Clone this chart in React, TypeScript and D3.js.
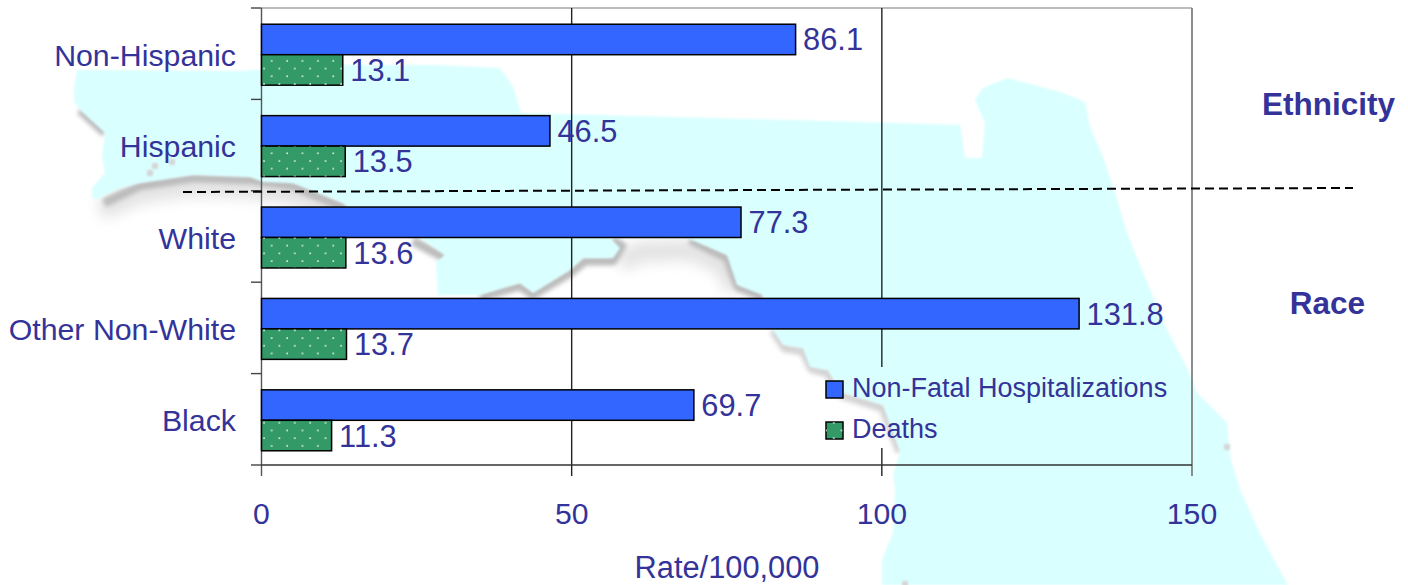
import React from "react";
import * as d3 from "d3";

const categories = ["Non-Hispanic", "Hispanic", "White", "Other Non-White", "Black"];
const hospitalizations = [86.1, 46.5, 77.3, 131.8, 69.7];
const deaths = [13.1, 13.5, 13.6, 13.7, 11.3];
const xTicks = [0, 50, 100, 150];
const seriesNames = ["Non-Fatal Hospitalizations", "Deaths"];
const groupLabels = ["Ethnicity", "Race"];
const axisTitle = "Rate/100,000";

const W = 1408, H = 585;
const INK = "#333399", BLUE = "#3366FF", GREEN = "#339966", LAND = "#D9FFFF";
const FONT = "'Liberation Sans', Arial, sans-serif";

// decorative backdrop: the outline of the state behind the plot
const land: [number, number][] = [
  [77,70],[74,87],[74,102],[80,110],[105,133],[102,157],[105,173],[92,188],[92,198],[97,199],[120,188],[140,183],
  [193,175],[250,177],[263,182],[293,183],[343,203],[380,225],[420,238],[445,255],[436,262],[438,295],[480,295],
  [520,283],[533,293],[570,270],[583,258],[613,258],[620,248],[610,238],[687,238],[727,255],[737,285],[763,295],
  [773,330],[783,345],[803,348],[810,367],[828,370],[840,392],[883,405],[900,452],[893,475],[895,490],[893,533],
  [882,560],[882,585],[1288,585],[1263,540],[1240,490],[1230,457],[1227,423],[1197,393],[1188,370],[1167,330],
  [1143,273],[1127,233],[1115,193],[1103,157],[1090,127],[1085,102],[1060,92],[1007,78],[983,88],[975,100],[985,123],
  [982,158],[965,158],[960,125],[860,122],[521,113],[513,87],[500,68],[433,65],[340,65],[240,71],
];
const shadowsWide: [number, number][][] = [
  [[100,210],[140,193],[193,186],[250,188],[293,194],[345,215]],
  [[620,262],[640,252],[690,250],[725,265],[735,290]],
];
const shadows: [number, number][][] = [
  [[80,110],[105,133]],
  [[104,203],[140,186],[193,178],[250,180],[293,186],[345,208]],
  [[413,241],[445,258]],
  [[480,297],[520,286],[533,295],[570,273],[585,261],[613,261],[622,246],[612,240]],
  [[690,240],[727,258],[738,287],[763,297]],
];
const faintShadows: [number, number][][] = [
  [[773,330],[785,348],[803,351],[812,369],[828,373],[842,395],[883,408],[900,452]],
];
const spots: [number, number][] = [[150,173],[155,166],[172,162],[1227,447],[905,584]];

const x = d3.scaleLinear().domain([0, 150]).range([261.5, 1192]);
const yTicks = d3.scaleLinear().domain([0, categories.length]).range([8, 465]);
const yBand = d3.scaleBand<string>().domain(categories).range([9, 466]).paddingInner(1 / 3).paddingOuter(1 / 6);
const line = d3.line();
const filterBox = { filterUnits: "userSpaceOnUse" as const, x: 0, y: 0, width: W, height: H };

export default function App() {
  const bh = yBand.bandwidth() / 2;
  const legendX = 826, legendY = [381, 422], sw = 17;
  const gapTop = 367, gapBottom = 448;
  return (
    <svg width={W} height={H} viewBox={`0 0 ${W} ${H}`} style={{ position: "absolute", left: 0, top: 0, display: "block", background: "#fff" }} fontFamily={FONT}>
      <defs>
        <pattern id="dots" width={15.4} height={15.4} patternUnits="userSpaceOnUse" x={261} y={4}>
          <circle cx={3} cy={3} r={0.9} fill="#fff" />
          <circle cx={10.7} cy={10.7} r={0.9} fill="#fff" />
        </pattern>
        <filter id="blurA" {...filterBox}><feGaussianBlur stdDeviation={2.2} /></filter>
        <filter id="blurB" {...filterBox}><feGaussianBlur stdDeviation={7} /></filter>
        <filter id="blurC" {...filterBox}><feGaussianBlur stdDeviation={0.8} /></filter>
      </defs>

      <g fill="none" strokeLinejoin="round">
        {shadowsWide.map((s, i) => <path key={"w" + i} d={line(s) ?? ""} stroke="#e2e2e2" strokeWidth={20} filter="url(#blurB)" />)}
        {shadows.map((s, i) => <path key={"s" + i} d={line(s) ?? ""} stroke="#bcbcbc" strokeWidth={9} filter="url(#blurA)" />)}
        {faintShadows.map((s, i) => <path key={"f" + i} d={line(s) ?? ""} stroke="#d4d4d4" strokeWidth={9} filter="url(#blurA)" />)}
      </g>
      <path d={(line(land) ?? "") + "Z"} fill={LAND} filter="url(#blurC)" />
      {spots.map((p, i) => <rect key={i} x={p[0] - 3} y={p[1] - 3} width={6} height={6} fill="#d6d6d6" filter="url(#blurC)" />)}

      {/* frame and gridlines */}
      <line x1={261.5} x2={1192} y1={8} y2={8} stroke="#a6a6a6" strokeWidth={1.5} />
      {xTicks.map((t) => {
        const px = x(t);
        const stroke = t === 150 ? "#808080" : t === 0 ? "#555" : "#222";
        const sw2 = t === 150 ? 1.8 : 1.4;
        if (t === 100) {
          return (
            <g key={t} stroke={stroke} strokeWidth={sw2}>
              <line x1={px} x2={px} y1={8} y2={gapTop} />
              <line x1={px} x2={px} y1={gapBottom} y2={476} />
            </g>
          );
        }
        return <line key={t} x1={px} x2={px} y1={8} y2={476} stroke={stroke} strokeWidth={sw2} />;
      })}
      <line x1={261.5} x2={1192} y1={465} y2={465} stroke="#333" strokeWidth={1.4} />
      {d3.range(categories.length + 1).map((i) => (
        <line key={i} x1={251} x2={261.5} y1={yTicks(i)} y2={yTicks(i)} stroke="#444" strokeWidth={1.4} />
      ))}

      {/* bars */}
      {categories.map((c, i) => {
        const y0 = yBand(c) ?? 0;
        return (
          <g key={c}>
            <rect x={x(0)} y={y0} width={x(hospitalizations[i]) - x(0)} height={bh} fill={BLUE} stroke="#000" strokeWidth={1.5} />
            <rect x={x(0)} y={y0 + bh} width={x(deaths[i]) - x(0)} height={bh} fill={GREEN} stroke="#000" strokeWidth={1.5} />
            <rect x={x(0)} y={y0 + bh} width={x(deaths[i]) - x(0)} height={bh} fill="url(#dots)" />
            <text x={x(hospitalizations[i]) + 7.5} y={y0 + bh / 2 + 11} fontSize={30.8} fill={INK}>{hospitalizations[i].toFixed(1)}</text>
            <text x={x(deaths[i]) + 7.5} y={y0 + bh * 1.5 + 11} fontSize={30.8} fill={INK}>{deaths[i].toFixed(1)}</text>
            <text x={236} y={y0 + bh + 11} fontSize={30.3} fill={INK} textAnchor="end">{c}</text>
          </g>
        );
      })}

      {/* x tick labels and title */}
      {xTicks.map((t) => (
        <text key={t} x={x(t)} y={524} fontSize={30.2} fill={INK} textAnchor="middle">{t}</text>
      ))}
      <text x={727} y={578} fontSize={30.8} fill={INK} textAnchor="middle">{axisTitle}</text>

      {/* legend */}
      {seriesNames.map((n, i) => (
        <g key={n}>
          <rect x={legendX} y={legendY[i]} width={sw} height={sw} fill={i === 0 ? BLUE : GREEN} stroke="#000" strokeWidth={1.5} />
          {i === 1 && <rect x={legendX} y={legendY[i]} width={sw} height={sw} fill="url(#dots)" />}
          <text x={852} y={legendY[i] + 16} fontSize={27} fill={INK}>{n}</text>
        </g>
      ))}

      {/* group divider and labels */}
      <line x1={183} y1={192} x2={1353} y2={188} stroke="#000" strokeWidth={2} strokeDasharray="9 5" />
      <text x={1395} y={115} fontSize={31.5} fontWeight="bold" fill={INK} textAnchor="end">{groupLabels[0]}</text>
      <text x={1365} y={314} fontSize={31.5} fontWeight="bold" fill={INK} textAnchor="end">{groupLabels[1]}</text>
    </svg>
  );
}
